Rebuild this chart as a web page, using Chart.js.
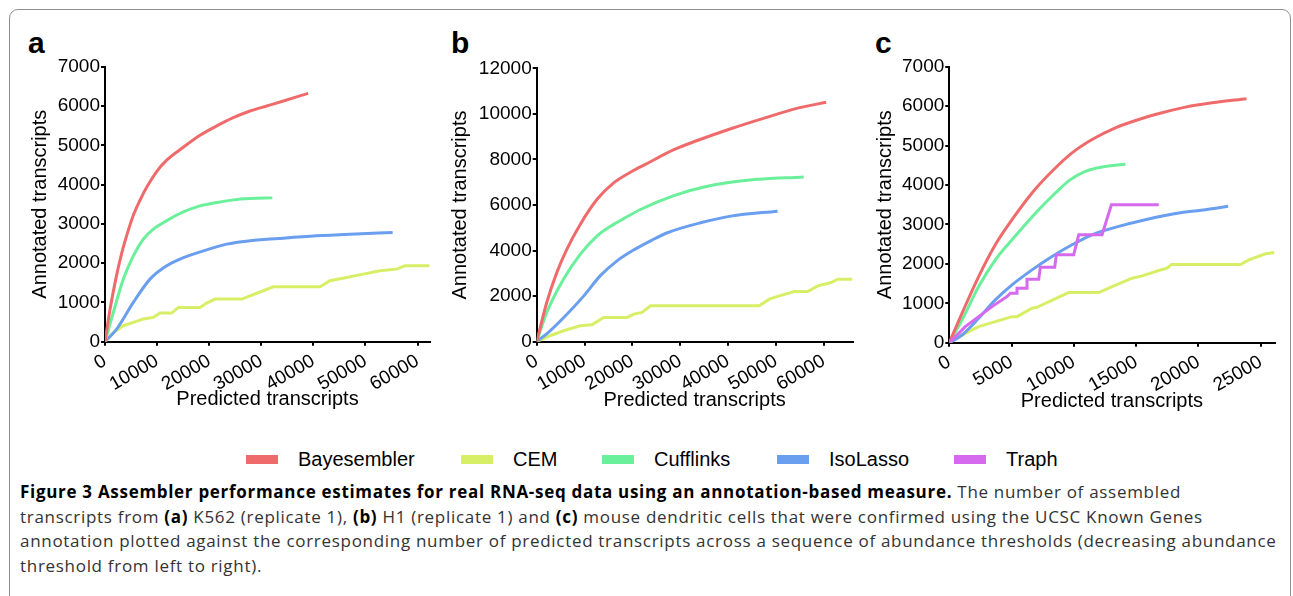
<!DOCTYPE html>
<html lang="en">
<head>
  <meta charset="UTF-8" />
  <title>Figure 3 - Assembler performance</title>
  <script src="https://cdn.jsdelivr.net/npm/chart.js"></script>
  <style>
    body { margin: 0; background: #fff; font-family: "Liberation Sans", Arial, sans-serif; }
    #frame { position: absolute; left: 9px; top: 9px; width: 1282px; height: 700px;
             border: 1.5px solid #8e8e8e; border-radius: 9px; box-sizing: border-box; }
    canvas { position: absolute; }
    .letter { position: absolute; font: bold 30px "Liberation Sans", Arial, sans-serif; line-height: 30px; color: #000; }
    .legend { position: absolute; top: 447px; left: 0; height: 24px; font-size: 20px; line-height: 24px; color: #000; }
    .legend span { position: absolute; white-space: nowrap; }
    .legend i { position: absolute; top: 8px; width: 32px; height: 9px; }
    #caption { position: absolute; left: 20px; top: 480px; font-family: "Open Sans", sans-serif; font-size: 17px;
               letter-spacing: 0.7px; line-height: 24.7px; color: #333; white-space: nowrap; }
    #caption b { color: #000; }
  </style>
</head>
<body>
  <div id="frame"></div>

  <div class="letter" style="left:28px; top:28px;">a</div>
  <div class="letter" style="left:451px; top:28px;">b</div>
  <div class="letter" style="left:875px; top:28px;">c</div>

  <canvas id="chartA" width="420" height="380" style="left:20px; top:40px;"></canvas>
  <canvas id="chartB" width="412" height="380" style="left:448px; top:40px;"></canvas>
  <canvas id="chartC" width="415" height="380" style="left:870px; top:40px;"></canvas>

  <div class="legend" id="legend"></div>

  <div id="caption">
    <b>Figure 3 Assembler performance estimates for real RNA-seq data using an annotation-based measure.</b> The number of assembled<br>
    transcripts from <b>(a)</b> K562 (replicate 1), <b>(b)</b> H1 (replicate 1) and <b>(c)</b> mouse dendritic cells that were confirmed using the UCSC Known Genes<br>
    annotation plotted against the corresponding number of predicted transcripts across a sequence of abundance thresholds (decreasing abundance<br>
    threshold from left to right).
  </div>

  <script>
    // series names and colours
    const seriesNames = ['Bayesembler', 'CEM', 'Cufflinks', 'IsoLasso', 'Traph'];
    const seriesColors = ['#EF6B6B', '#D7EF66', '#6AEF9B', '#6A9EEF', '#D66AEF'];

    // tick labels
    const aXTicks = [0, 10000, 20000, 30000, 40000, 50000, 60000];
    const aYTicks = [0, 1000, 2000, 3000, 4000, 5000, 6000, 7000];
    const bXTicks = [0, 10000, 20000, 30000, 40000, 50000, 60000];
    const bYTicks = [0, 2000, 4000, 6000, 8000, 10000, 12000];
    const cXTicks = [0, 5000, 10000, 15000, 20000, 25000];
    const cYTicks = [0, 1000, 2000, 3000, 4000, 5000, 6000, 7000];

    // (a) K562
    const aBayX = [0, 960, 2240, 3200, 4160, 5440, 6720, 8000, 9920, 11840, 15040, 18240, 21440, 24640, 27840, 31040, 34240, 39000];
    const aBayY = [0, 820, 1700, 2250, 2700, 3220, 3600, 3930, 4330, 4620, 4950, 5254, 5492, 5703, 5873, 6000, 6127, 6322];
    const aCufX = [0, 1600, 3520, 5440, 7360, 9280, 11840, 15040, 18240, 21440, 24640, 27840, 32128];
    const aCufY = [0, 746, 1593, 2186, 2610, 2864, 3080, 3305, 3458, 3542, 3610, 3644, 3661];
    const aIsoX = [0, 2240, 5440, 8640, 11840, 14400, 16960, 19520, 23360, 27840, 34240, 40640, 47040, 55232];
    const aIsoY = [0, 322, 1000, 1593, 1932, 2102, 2229, 2339, 2483, 2568, 2636, 2695, 2737, 2780];
    const aCemX = [0, 1600, 3520, 5440, 7360, 9280, 10560, 12800, 14080, 18240, 19520, 21120, 26240, 27840, 30400, 32320, 41280, 43200, 46400, 49600, 52800, 56000, 57600, 62300];
    const aCemY = [0, 237, 407, 492, 576, 619, 729, 729, 873, 873, 983, 1085, 1085, 1169, 1297, 1398, 1398, 1551, 1636, 1720, 1805, 1847, 1932, 1932];

    // (b) H1
    const bBayX = [0, 2098, 4196, 6293, 9091, 12587, 16084, 19580, 23077, 28671, 33566, 40559, 47552, 54545, 60489];
    const bBayY = [0, 1720, 3033, 4053, 5147, 6240, 6969, 7436, 7820, 8427, 8830, 9346, 9812, 10250, 10512];
    const bCufX = [0, 2098, 5594, 9091, 12587, 16084, 18182, 21678, 28671, 35664, 44056, 55804];
    const bCufY = [0, 1283, 2741, 3835, 4636, 5150, 5400, 5803, 6415, 6823, 7086, 7232];
    const bIsoX = [0, 2800, 5600, 9800, 13300, 16800, 20300, 24000, 27300, 34266, 40559, 50350];
    const bIsoY = [0, 480, 1050, 2000, 2900, 3550, 4030, 4450, 4782, 5220, 5511, 5730];
    const bCemX = [0, 2797, 5594, 9091, 11538, 13986, 18881, 20280, 22028, 23776, 46503, 48601, 50699, 53846, 56643, 58741, 61538, 62937, 66000];
    const bCemY = [0, 262, 481, 700, 744, 1064, 1064, 1210, 1283, 1575, 1575, 1866, 2012, 2202, 2202, 2449, 2595, 2741, 2741];

    // (c) mouse dendritic cells
    const cBayX = [0, 1017, 2356, 3694, 5033, 6639, 8245, 9851, 11458, 13331, 15205, 17079, 18952, 21094, 23851];
    const cBayY = [0, 746, 1678, 2483, 3119, 3797, 4347, 4814, 5153, 5449, 5661, 5831, 5975, 6085, 6186];
    const cCufX = [0, 1017, 2356, 3694, 5033, 7174, 8513, 9717, 10922, 12261, 14134];
    const cCufY = [0, 576, 1424, 2102, 2610, 3373, 3797, 4136, 4347, 4458, 4525];
    const cIsoX = [0, 1017, 2356, 3694, 5033, 6639, 8245, 9851, 11458, 13599, 15740, 18417, 20558, 22379];
    const cIsoY = [0, 195, 619, 1085, 1466, 1847, 2186, 2483, 2737, 2949, 3119, 3288, 3373, 3458];
    const cCemX = [0, 1285, 2356, 3694, 5033, 5435, 6639, 7040, 7710, 8781, 9583, 11993, 13064, 14670, 15473, 16812, 17481, 17829, 23370, 24039, 25378, 26100];
    const cCemY = [0, 237, 407, 534, 661, 661, 873, 898, 1000, 1153, 1271, 1271, 1424, 1636, 1695, 1831, 1890, 1983, 1983, 2102, 2254, 2288];
    const cTraX = [0, 1285, 2356, 3427, 4631, 4899, 5435, 5435, 6237, 6237, 7174, 7308, 8459, 8593, 9985, 10387, 12261, 13010, 16812];
    const cTraY = [0, 407, 661, 915, 1169, 1254, 1254, 1381, 1381, 1610, 1610, 1915, 1915, 2229, 2229, 2737, 2737, 3500, 3500];

    const FONT = '"Liberation Sans", Arial, sans-serif';

    function series(name, xs, ys, smooth) {
      const i = seriesNames.indexOf(name);
      return {
        label: name,
        data: xs.map((x, k) => ({ x: x, y: ys[k] })),
        borderColor: seriesColors[i],
        borderWidth: 3,
        pointRadius: 0,
        fill: false,
        tension: smooth ? 0.4 : 0,
        cubicInterpolationMode: smooth ? 'monotone' : 'default'
      };
    }

    function panel(id, datasets, p) {
      new Chart(document.getElementById(id), {
        type: 'line',
        data: { datasets: datasets },
        options: {
          responsive: false,
          animation: false,
          devicePixelRatio: 1,
          layout: { padding: { top: p.padTop, right: p.padRight, left: 0, bottom: 0 } },
          plugins: { legend: { display: false }, tooltip: { enabled: false } },
          scales: {
            x: {
              type: 'linear', min: 0, max: p.xMax,
              afterBuildTicks: s => { s.ticks = p.xTicks.map(v => ({ value: v })); },
              afterFit: s => { s.height = p.xHeight; },
              ticks: { minRotation: 30, maxRotation: 30, padding: 4, color: '#000',
                       font: { family: FONT, size: 19 }, callback: v => String(v) },
              grid: { drawOnChartArea: false, drawTicks: true, tickLength: 4, color: '#000', lineWidth: 2 },
              border: { color: '#000', width: 2 },
              title: { display: true, text: 'Predicted transcripts', color: '#000',
                       font: { family: FONT, size: 20 }, padding: { top: 0, bottom: p.xTitlePad } }
            },
            y: {
              type: 'linear', min: 0, max: p.yMax,
              afterBuildTicks: s => { s.ticks = p.yTicks.map(v => ({ value: v })); },
              afterFit: s => { s.width = p.yWidth; },
              ticks: { padding: 1, color: '#000', font: { family: FONT, size: 19 }, callback: v => String(v) },
              grid: { drawOnChartArea: false, drawTicks: true, tickLength: 4, color: '#000', lineWidth: 2 },
              border: { color: '#000', width: 2 },
              title: { display: true, text: 'Annotated transcripts', color: '#000',
                       font: { family: FONT, size: 20 }, padding: { top: p.yTitlePad, bottom: 0 } }
            }
          }
        }
      });
    }

    panel('chartA', [
      series('Bayesembler', aBayX, aBayY, true),
      series('Cufflinks', aCufX, aCufY, true),
      series('IsoLasso', aIsoX, aIsoY, true),
      series('CEM', aCemX, aCemY, false)
    ], { xMax: 62400, yMax: 7000, xTicks: aXTicks, yTicks: aYTicks,
         padTop: 26.7, padRight: 10, xHeight: 78.3, yWidth: 85, xTitlePad: 9, yTitlePad: 8 });

    panel('chartB', [
      series('Bayesembler', bBayX, bBayY, true),
      series('Cufflinks', bCufX, bCufY, true),
      series('IsoLasso', bIsoX, bIsoY, true),
      series('CEM', bCemX, bCemY, false)
    ], { xMax: 66000, yMax: 12000, xTicks: bXTicks, yTicks: bYTicks,
         padTop: 28.3, padRight: 7.5, xHeight: 78.3, yWidth: 88.7, xTitlePad: 7.7, yTitlePad: 0 });

    panel('chartC', [
      series('Traph', cTraX, cTraY, false),
      series('Bayesembler', cBayX, cBayY, true),
      series('Cufflinks', cCufX, cCufY, true),
      series('IsoLasso', cIsoX, cIsoY, true),
      series('CEM', cCemX, cCemY, false)
    ], { xMax: 26100, yMax: 7000, xTicks: cXTicks, yTicks: cYTicks,
         padTop: 26.7, padRight: 10.5, xHeight: 77.3, yWidth: 79.3, xTitlePad: 7, yTitlePad: 3 });

    // legend below the panels
    const legendBoxX = [246, 461, 602, 777, 954];
    const legend = document.getElementById('legend');
    seriesNames.forEach((name, i) => {
      const box = document.createElement('i');
      box.style.left = legendBoxX[i] + 'px';
      box.style.background = seriesColors[i];
      const label = document.createElement('span');
      label.style.left = (legendBoxX[i] + 52) + 'px';
      label.textContent = name;
      legend.appendChild(box);
      legend.appendChild(label);
    });
  </script>
</body>
</html>
